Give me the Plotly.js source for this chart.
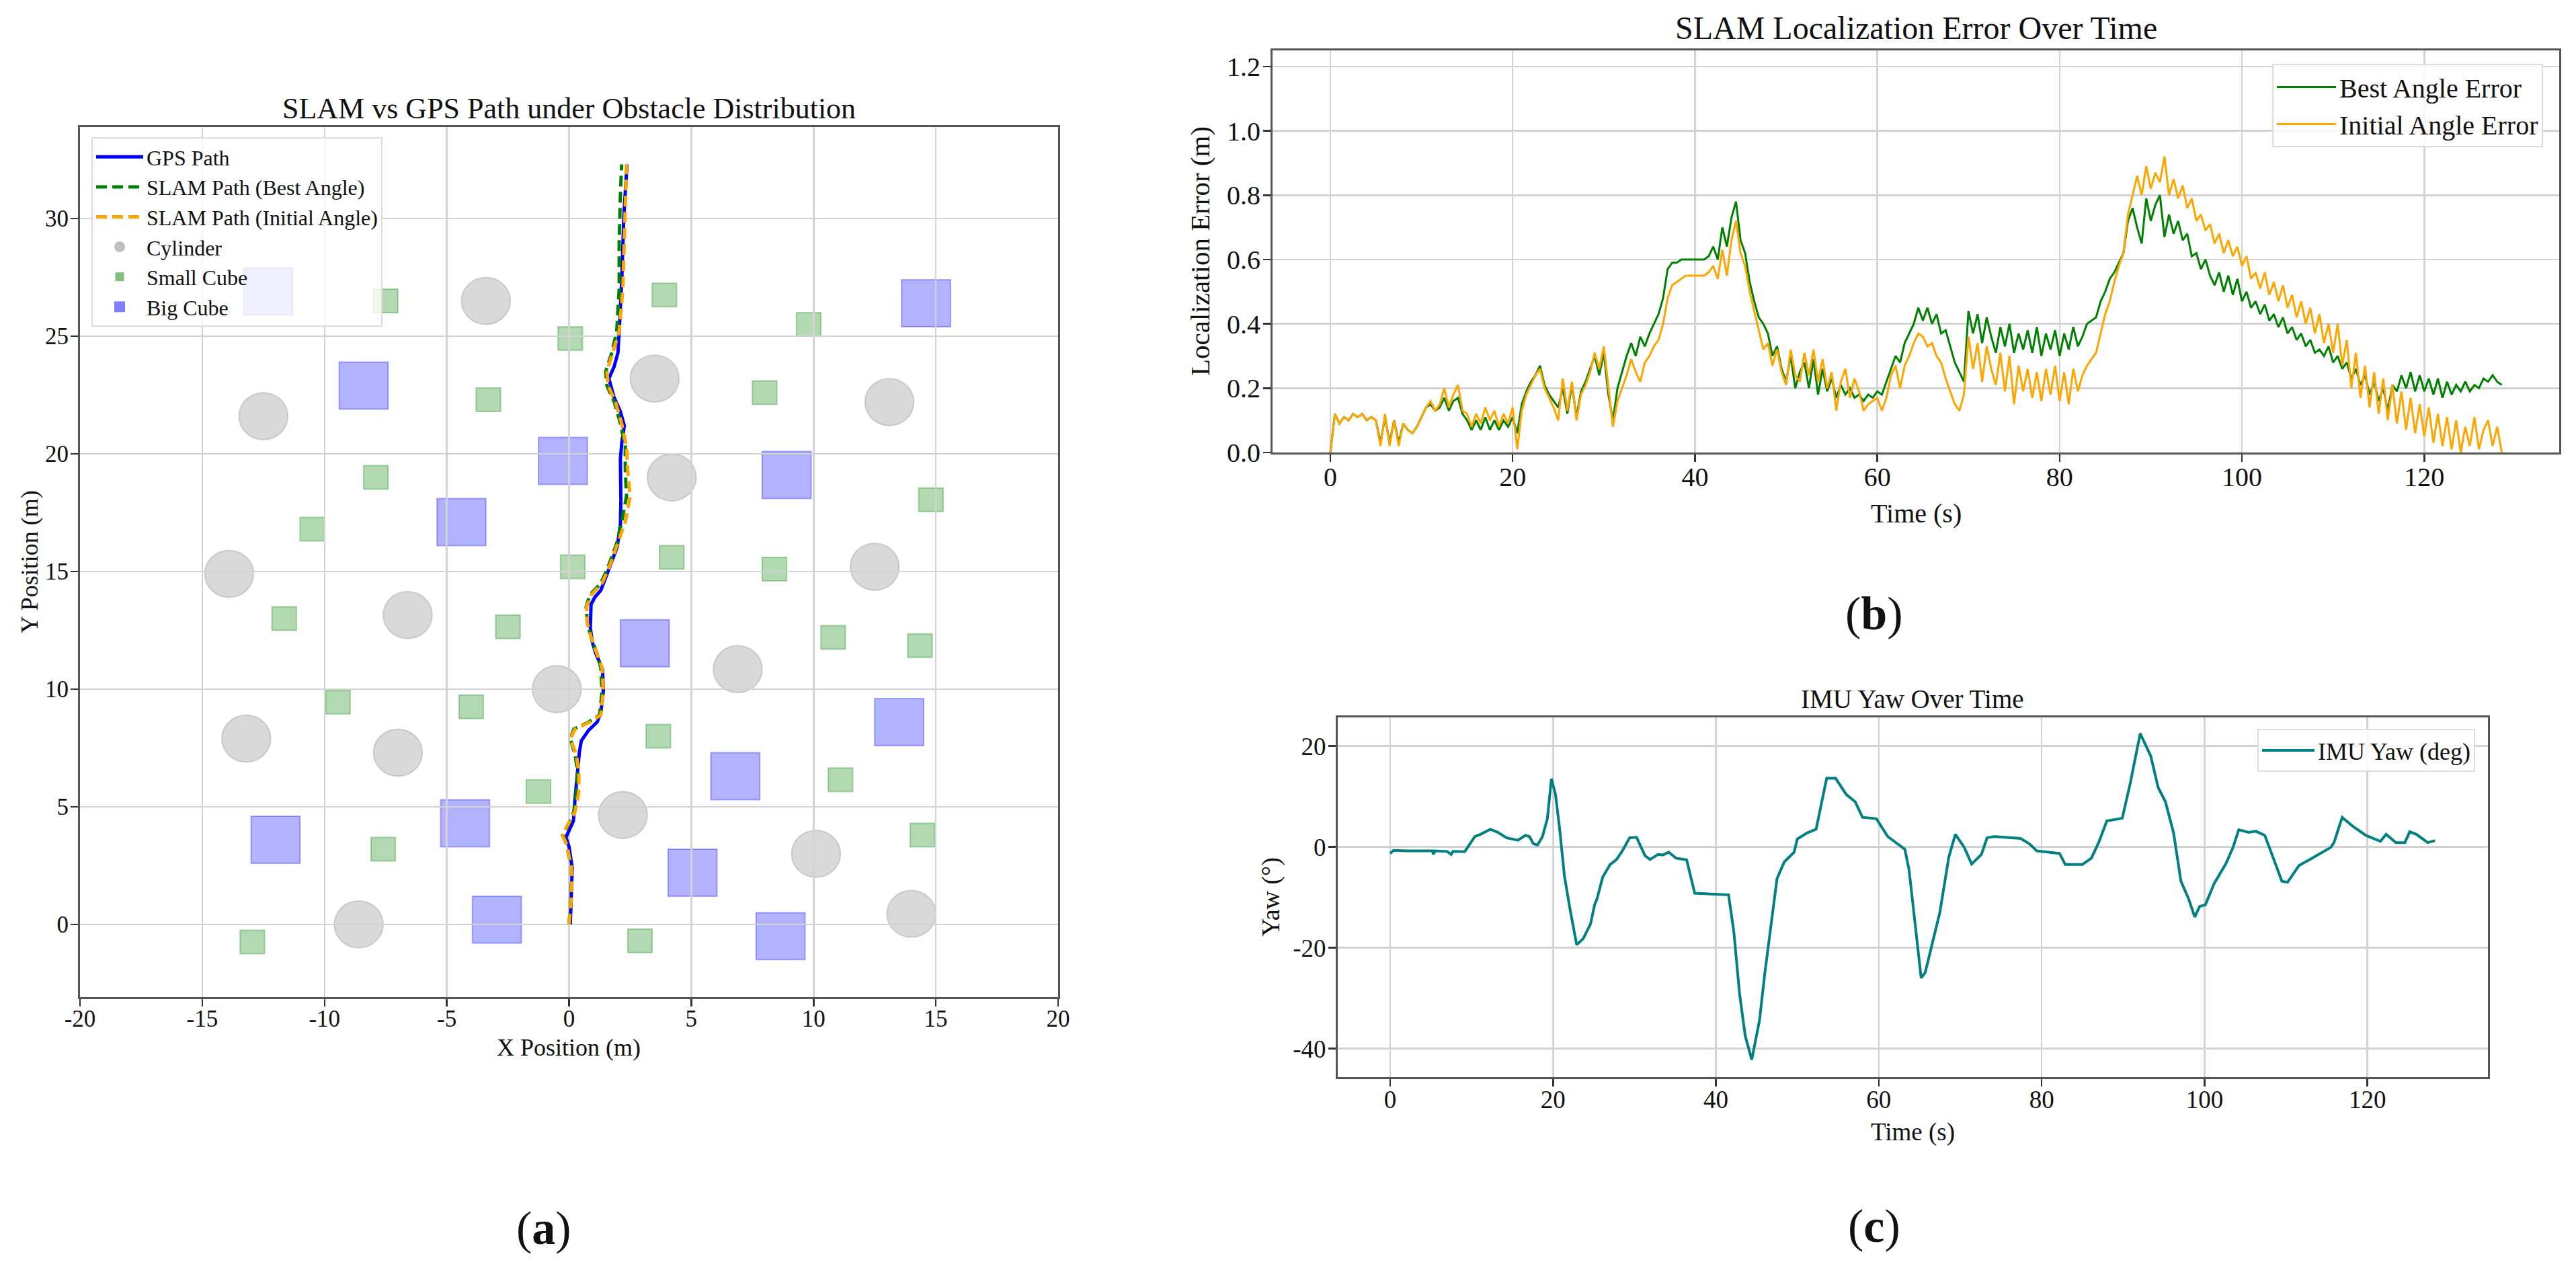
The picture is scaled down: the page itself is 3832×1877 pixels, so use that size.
<!DOCTYPE html>
<html>
<head>
<meta charset="utf-8">
<script src="https://cdn.plot.ly/plotly-3.0.1.min.js"></script>
<style>
  html, body { margin: 0; padding: 0; background: #fff; }
  #chart { width: 3832px; height: 1877px; }
</style>
</head>
<body>
<div id="chart"></div>
<script>
/* Three-panel figure: (a) SLAM vs GPS path among obstacles,
   (b) SLAM localization error over time, (c) IMU yaw over time.
   Values. */

// ---- (a) paths (m) ----
const gpsX = [0.05, 0.1, 0.13, 0.0, -0.13, 0.05, 0.18, 0.25, 0.34, 0.42, 0.5, 0.8, 1.15, 1.3, 1.4, 1.37, 1.1, 0.95, 0.87, 0.9,
              1.05, 1.3, 1.58, 1.97, 2.1, 2.12, 2.1, 2.16, 2.26, 2.1, 1.84, 1.63, 1.84, 2.0, 2.05, 2.16, 2.24, 2.37];
const gpsY = [0, 1.2, 2.4, 3.3, 3.7, 4.1, 4.4, 5.4, 6.5, 7.3, 7.8, 8.25, 8.6, 9.0, 9.9, 10.85, 11.5, 12.0, 12.6, 13.6,
              13.9, 14.2, 14.96, 16.05, 17.0, 18.0, 19.8, 20.5, 21.2, 21.8, 22.4, 23.2, 23.7, 24.3, 25.2, 27.5, 30.1, 32.3];

const bestX = [0.0, 0.08, 0.1, -0.1, -0.25, 0.0, 0.2, 0.3, 0.35, 0.25, 0.05, 0.2, 0.8, 1.25, 1.35, 1.3, 1.15, 0.9, 0.75, 0.7,
               0.85, 1.3, 1.6, 1.95, 2.15, 2.35, 2.3, 2.3, 2.1, 1.85, 1.55, 1.5, 1.75, 1.95, 2.05, 2.05, 2.1, 2.15];
const bestY = [0, 1.2, 2.4, 3.4, 3.8, 4.3, 4.8, 5.6, 6.5, 7.2, 7.9, 8.3, 8.6, 8.9, 9.9, 10.9, 11.5, 12.2, 12.8, 13.5,
               14.0, 14.5, 15.2, 16.2, 17.1, 18.2, 19.3, 20.3, 21.3, 22.2, 22.9, 23.5, 24.3, 25.2, 27.0, 29.0, 31.0, 32.3];

const initX = [0.0, 0.1, 0.1, -0.1, -0.28, 0.0, 0.25, 0.4, 0.4, 0.3, 0.05, 0.25, 0.85, 1.3, 1.4, 1.35, 1.15, 0.9, 0.75, 0.72,
               0.9, 1.35, 1.65, 2.0, 2.3, 2.5, 2.4, 2.35, 2.15, 1.9, 1.6, 1.55, 1.8, 2.05, 2.2, 2.25, 2.3, 2.35];
const initY = [0, 1.2, 2.4, 3.4, 3.8, 4.3, 4.8, 5.6, 6.5, 7.2, 7.9, 8.3, 8.6, 8.9, 9.9, 10.9, 11.5, 12.2, 12.8, 13.5,
               14.0, 14.5, 15.2, 16.2, 17.1, 18.2, 19.3, 20.3, 21.3, 22.2, 22.9, 23.5, 24.3, 25.2, 27.0, 29.0, 31.0, 32.3];

// ---- (a) obstacle centres (m) ----
const cylX = [-3.4, 3.5, 13.1, -12.5, 4.2, -13.9, 12.5, -6.6, 6.9, -0.5, -13.2, -7.0, 2.2, 10.1, -8.6, 14.0];
const cylY = [26.5, 23.2, 22.2, 21.6, 19.0, 14.9, 15.2, 13.15, 10.85, 10.0, 7.9, 7.3, 4.65, 3.0, 0.0, 0.45];

const bigX = [-12.3, 14.6, -8.4, -0.25, 8.9, -4.4, 3.1, 13.5, 6.8, -4.25, -12.0, 5.05, -2.95, 8.65];
const bigY = [26.9, 26.4, 22.9, 19.7, 19.1, 17.1, 11.95, 8.6, 6.3, 4.3, 3.6, 2.2, 0.2, -0.5];

const smallX = [-7.5, 3.9, 9.8, 0.05, -3.3, 8.0, -7.9, 14.8, -10.5, 0.15, 4.2, 8.4, -11.65, -2.5, 10.8, 14.35,
                -9.45, -4.0, 3.65, 11.1, -1.25, -7.6, 14.45, 2.9, -12.95];
const smallY = [26.5, 26.75, 25.5, 24.9, 22.3, 22.6, 19.0, 18.05, 16.8, 15.2, 15.6, 15.1, 13.0, 12.65, 12.2, 11.85,
                9.45, 9.25, 8.0, 6.15, 5.65, 3.2, 3.8, -0.7, -0.75];

const xTickVals = [-20, -15, -10, -5, 0, 5, 10, 15, 20];
const xTickText = ["-20", "-15", "-10", "-5", "0", "5", "10", "15", "20"];

// ---- (b) localization error (m) vs time (s) ----
const errT = [
  0, 0.5, 1, 1.5, 2, 2.5, 3, 3.5, 4, 4.5, 5, 5.5, 6, 6.5, 7, 7.5, 8, 8.5, 9, 9.5,
  10, 10.5, 11, 11.5, 12, 12.5, 13, 13.5, 14, 14.5, 15, 15.5, 16, 16.5, 17, 17.5, 18, 18.5, 19, 19.5,
  20, 20.5, 21, 21.5, 22, 22.5, 23, 23.5, 24, 24.5, 25, 25.5, 26, 26.5, 27, 27.5, 28, 28.5, 29, 29.5,
  30, 30.5, 31, 31.5, 32, 32.5, 33, 33.5, 34, 34.5, 35, 35.5, 36, 36.5, 37, 37.5, 38, 38.5, 39, 39.5,
  40, 40.5, 41, 41.5, 42, 42.5, 43, 43.5, 44, 44.5, 45, 45.5, 46, 46.5, 47, 47.5, 48, 48.5, 49, 49.5,
  50, 50.5, 51, 51.5, 52, 52.5, 53, 53.5, 54, 54.5, 55, 55.5, 56, 56.5, 57, 57.5, 58, 58.5, 59, 59.5,
  60, 60.5, 61, 61.5, 62, 62.5, 63, 63.5, 64, 64.5, 65, 65.5, 66, 66.5, 67, 67.5, 68, 68.5, 69, 69.5,
  70, 70.5, 71, 71.5, 72, 72.5, 73, 73.5, 74, 74.5, 75, 75.5, 76, 76.5, 77, 77.5, 78, 78.5, 79, 79.5,
  80, 80.5, 81, 81.5, 82, 82.5, 83, 83.5, 84, 84.5, 85, 85.5, 86, 86.5, 87, 87.5, 88, 88.5, 89, 89.5,
  90, 90.5, 91, 91.5, 92, 92.5, 93, 93.5, 94, 94.5, 95, 95.5, 96, 96.5, 97, 97.5, 98, 98.5, 99, 99.5,
  100, 100.5, 101, 101.5, 102, 102.5, 103, 103.5, 104, 104.5, 105, 105.5, 106, 106.5, 107, 107.5, 108, 108.5, 109, 109.5,
  110, 110.5, 111, 111.5, 112, 112.5, 113, 113.5, 114, 114.5, 115, 115.5, 116, 116.5, 117, 117.5, 118, 118.5, 119, 119.5,
  120, 120.5, 121, 121.5, 122, 122.5, 123, 123.5, 124, 124.5, 125, 125.5, 126, 126.5, 127, 127.5, 128, 128.5
];
const bestErr = [
  0.00, 0.12, 0.09, 0.11, 0.10, 0.12, 0.11, 0.12, 0.10, 0.11,  0.10, 0.03, 0.11, 0.03, 0.10, 0.03, 0.09, 0.07, 0.06, 0.08,
  0.11, 0.14, 0.15, 0.13, 0.14, 0.17, 0.13, 0.16, 0.17, 0.12,  0.10, 0.07, 0.10, 0.07, 0.11, 0.07, 0.10, 0.07, 0.10, 0.08,
  0.11, 0.06, 0.15, 0.19, 0.22, 0.24, 0.27, 0.21, 0.18, 0.16,  0.14, 0.20, 0.12, 0.21, 0.11, 0.19, 0.22, 0.26, 0.30, 0.24,
  0.31, 0.18, 0.10, 0.20, 0.25, 0.30, 0.34, 0.30, 0.36, 0.33,  0.37, 0.40, 0.43, 0.48, 0.57, 0.59, 0.59, 0.60, 0.60, 0.60,
  0.60, 0.60, 0.60, 0.61, 0.64, 0.60, 0.70, 0.64, 0.73, 0.78,  0.66, 0.62, 0.53, 0.47, 0.42, 0.40, 0.37, 0.30, 0.33, 0.26,
  0.22, 0.30, 0.20, 0.25, 0.28, 0.20, 0.29, 0.18, 0.26, 0.19,  0.23, 0.17, 0.21, 0.18, 0.20, 0.17, 0.18, 0.16, 0.18, 0.17,
  0.19, 0.18, 0.22, 0.26, 0.30, 0.28, 0.34, 0.37, 0.40, 0.45,  0.41, 0.45, 0.40, 0.43, 0.37, 0.38, 0.33, 0.28, 0.25, 0.22,
  0.44, 0.37, 0.43, 0.34, 0.42, 0.36, 0.31, 0.39, 0.33, 0.40,  0.31, 0.37, 0.32, 0.38, 0.31, 0.39, 0.30, 0.37, 0.32, 0.38,
  0.30, 0.37, 0.32, 0.39, 0.33, 0.36, 0.40, 0.41, 0.42, 0.47,  0.50, 0.54, 0.56, 0.59, 0.62, 0.72, 0.76, 0.70, 0.65, 0.79,
  0.72, 0.77, 0.80, 0.67, 0.74, 0.68, 0.72, 0.66, 0.68, 0.61,  0.62, 0.57, 0.60, 0.55, 0.52, 0.56, 0.50, 0.55, 0.49, 0.54,
  0.47, 0.50, 0.45, 0.47, 0.43, 0.46, 0.41, 0.43, 0.39, 0.42,  0.37, 0.39, 0.35, 0.37, 0.33, 0.35, 0.31, 0.32, 0.30, 0.33,
  0.28, 0.30, 0.26, 0.28, 0.23, 0.26, 0.21, 0.24, 0.18, 0.22,  0.16, 0.20, 0.13, 0.21, 0.19, 0.24, 0.20, 0.25, 0.19, 0.24,
  0.19, 0.23, 0.18, 0.23, 0.17, 0.22, 0.18, 0.21, 0.19, 0.22,  0.19, 0.21, 0.20, 0.23, 0.22, 0.24, 0.22, 0.21
];
const initErr = [
  0.00, 0.12, 0.09, 0.11, 0.10, 0.12, 0.11, 0.12, 0.10, 0.11,  0.10, 0.02, 0.12, 0.02, 0.10, 0.02, 0.09, 0.07, 0.06, 0.08,
  0.11, 0.14, 0.16, 0.13, 0.15, 0.20, 0.14, 0.18, 0.21, 0.13,  0.12, 0.08, 0.12, 0.09, 0.14, 0.10, 0.13, 0.08, 0.12, 0.09,
  0.14, 0.01, 0.13, 0.18, 0.21, 0.24, 0.26, 0.20, 0.17, 0.14,  0.10, 0.23, 0.13, 0.22, 0.10, 0.18, 0.21, 0.25, 0.31, 0.26,
  0.33, 0.20, 0.08, 0.16, 0.20, 0.24, 0.29, 0.25, 0.22, 0.28,  0.30, 0.33, 0.35, 0.40, 0.48, 0.52, 0.53, 0.54, 0.55, 0.55,
  0.55, 0.55, 0.55, 0.56, 0.58, 0.54, 0.63, 0.55, 0.66, 0.72,  0.62, 0.58, 0.50, 0.44, 0.38, 0.32, 0.34, 0.27, 0.32, 0.25,
  0.21, 0.32, 0.24, 0.22, 0.31, 0.24, 0.32, 0.22, 0.29, 0.20,  0.25, 0.13, 0.22, 0.26, 0.17, 0.23, 0.19, 0.13, 0.15, 0.16,
  0.17, 0.13, 0.17, 0.24, 0.27, 0.20, 0.27, 0.30, 0.34, 0.37,  0.36, 0.33, 0.34, 0.30, 0.28, 0.23, 0.19, 0.15, 0.13, 0.18,
  0.36, 0.26, 0.34, 0.22, 0.33, 0.26, 0.21, 0.31, 0.19, 0.30,  0.15, 0.27, 0.19, 0.26, 0.17, 0.25, 0.16, 0.26, 0.18, 0.27,
  0.16, 0.25, 0.15, 0.26, 0.19, 0.24, 0.27, 0.29, 0.31, 0.37,  0.43, 0.47, 0.53, 0.58, 0.62, 0.74, 0.80, 0.86, 0.80, 0.89,
  0.82, 0.87, 0.84, 0.92, 0.80, 0.85, 0.79, 0.83, 0.76, 0.79,  0.72, 0.74, 0.69, 0.71, 0.65, 0.68, 0.62, 0.66, 0.61, 0.64,
  0.58, 0.61, 0.54, 0.56, 0.51, 0.56, 0.49, 0.53, 0.47, 0.52,  0.45, 0.49, 0.42, 0.47, 0.40, 0.45, 0.37, 0.43, 0.34, 0.40,
  0.31, 0.40, 0.27, 0.35, 0.20, 0.31, 0.17, 0.27, 0.14, 0.25,  0.12, 0.23, 0.10, 0.21, 0.09, 0.19, 0.07, 0.17, 0.06, 0.15,
  0.05, 0.14, 0.03, 0.12, 0.02, 0.11, 0.01, 0.10, 0.00, 0.08,  0.02, 0.11, 0.01, 0.07, 0.10, 0.02, 0.08, 0.00
];

// ---- (c) IMU yaw (deg) vs time (s) ----
const yawT = [
  0, 0.4, 2, 4, 5.2, 5.3, 5.5, 7, 7.5, 7.7,
  9.15, 10.4, 11.1, 12.3, 13.2, 14.3, 15.7, 16.6, 17.1, 17.6,
  18.1, 18.7, 19.3, 19.8, 20.3, 20.8, 21.4, 22.1, 22.9, 23.7,
  24.2, 24.6, 25.1, 25.4, 26.1, 27.0, 27.8, 28.5, 29.4, 30.25,
  31.3, 31.9, 32.9, 33.5, 34.2, 35.1, 36.4, 37.4, 41.55, 42.2,
  42.9, 43.6, 44.4, 45.35, 46.0, 46.6, 47.5, 48.4, 49.6, 50.0,
  51.2, 52.3, 52.8, 53.6, 54.7, 56.0, 57.1, 58.0, 59.7, 61.1,
  63.2, 63.7, 64.2, 65.2, 65.7, 66.6, 67.5, 68.6, 69.4, 70.5,
  71.4, 72.6, 73.3, 74.2, 77.4, 78.5, 79.4, 82.2, 82.9, 85.0,
  86.1, 87.0, 88.0, 89.9, 90.9, 92.1, 93.4, 94.3, 95.2, 96.2,
  97.1, 98.0, 98.8, 99.4, 100.1, 101.2, 102.6, 103.5, 104.2, 105.4,
  106.3, 107.4, 108.3, 109.5, 110.2, 111.6, 113.2, 115.5, 115.9, 116.9,
  118.2, 119.8, 121.6, 122.3, 123.5, 124.6, 125.2, 126.0, 127.4, 128.3
];
const yawV = [
  -1.3, -0.7, -0.8, -0.8, -0.8, -1.5, -0.8, -0.9, -1.5, -0.9,
  -0.95, 2.05, 2.5, 3.5, 2.9, 1.8, 1.33, 2.3, 2.05, 0.6,
  0.38, 2.05, 5.6, 13.5, 10.4, 3.7, -5.8, -12.5, -19.4, -18.2,
  -16.5, -15.3, -11.5, -10.3, -6.0, -3.5, -2.5, -0.8, 1.8, 1.9,
  -1.76, -2.5, -1.5, -1.6, -1.05, -2.24, -2.57, -9.2, -9.5, -16.8,
  -29.1, -37.5, -42.2, -34.4, -25.1, -17.2, -6.3, -2.95, -1.05, 1.57,
  2.76, 3.5, 7.5, 13.6, 13.6, 10.4, 8.95, 5.86, 5.6, 2.05,
  -0.48, -4.4, -11.5, -26.0, -24.9, -18.7, -12.95, -2.0, 2.5, -0.1,
  -3.4, -1.5, 1.8, 2.05, 1.67, 0.6, -0.8, -1.3, -3.5, -3.5,
  -2.24, 0.86, 5.14, 5.7, 12.8, 22.5, 18.0, 11.8, 8.95, 2.76,
  -6.8, -10.1, -13.9, -11.8, -11.5, -7.2, -3.4, -0.1, 3.4, 2.9,
  3.1, 2.3, -1.5, -6.8, -7.0, -3.7, -2.24, -0.1, 0.86, 5.86,
  4.1, 2.3, 1.1, 2.5, 0.86, 0.86, 3.0, 2.5, 0.86, 1.24
];
const yawTickVals = [-40, -20, 0, 20];
const yawTickText = ["-40", "-20", "0", "20"];

(function () {
  "use strict";

  const W = 3832, H = 1877;
  const FONT = "Liberation Serif, Times New Roman, serif";
  const INK = "#111";
  // pixel -> paper helpers (layout placement only)
  const px = v => v / W;
  const py = v => 1 - v / H;

  /* ---------- obstacle shapes, sized in data units ---------- */
  function boxes(xs, ys, half, rgb, kind) {
    return xs.map((cx, i) => ({
      type: kind, xref: "x", yref: "y", layer: "below",
      x0: cx - half, x1: cx + half, y0: ys[i] - half, y1: ys[i] + half,
      fillcolor: `rgba(${rgb},0.3)`,
      line: { color: `rgba(${rgb},0.3)`, width: 2 },
    }));
  }
  const shapes = [
    ...boxes(cylX, cylY, 1.0, "128,128,128", "circle"),
    ...boxes(smallX, smallY, 0.5, "0,128,0", "rect"),
    ...boxes(bigX, bigY, 1.0, "0,0,255", "rect"),
  ];

  /* ---------- traces ---------- */
  const dash = "16px,8px";
  const traces = [
    { x: gpsX, y: gpsY, xaxis: "x", yaxis: "y", mode: "lines", name: "GPS Path",
      line: { color: "#0000ff", width: 5 }, legend: "legend" },
    { x: bestX, y: bestY, xaxis: "x", yaxis: "y", mode: "lines", name: "SLAM Path (Best Angle)",
      line: { color: "#008000", width: 5, dash }, legend: "legend" },
    { x: initX, y: initY, xaxis: "x", yaxis: "y", mode: "lines", name: "SLAM Path (Initial Angle)",
      line: { color: "#ffa500", width: 5, dash }, legend: "legend" },
    // legend proxies for the obstacle patches
    { x: [null], y: [null], xaxis: "x", yaxis: "y", mode: "markers", name: "Cylinder", legend: "legend",
      marker: { symbol: "circle", size: 16, color: "rgba(128,128,128,0.5)" } },
    { x: [null], y: [null], xaxis: "x", yaxis: "y", mode: "markers", name: "Small Cube", legend: "legend",
      marker: { symbol: "square", size: 13, color: "rgba(0,128,0,0.5)" } },
    { x: [null], y: [null], xaxis: "x", yaxis: "y", mode: "markers", name: "Big Cube", legend: "legend",
      marker: { symbol: "square", size: 16, color: "rgba(0,0,255,0.5)" } },

    { x: errT, y: bestErr, xaxis: "x2", yaxis: "y2", mode: "lines", name: "Best Angle Error",
      line: { color: "#008000", width: 3 }, legend: "legend2" },
    { x: errT, y: initErr, xaxis: "x2", yaxis: "y2", mode: "lines", name: "Initial Angle Error",
      line: { color: "#ffa500", width: 3 }, legend: "legend2" },

    { x: yawT, y: yawV, xaxis: "x3", yaxis: "y3", mode: "lines", name: "IMU Yaw (deg)",
      line: { color: "#008080", width: 4 }, legend: "legend3" },
  ];

  /* ---------- axes ---------- */
  function axis(domain, range, dtick, fontSize, extra) {
    return {
      domain, range, dtick, tick0: 0, autorange: false,
      showgrid: true, gridcolor: "#d3d3d3", gridwidth: 2.5,
      zeroline: false,
      showline: true, mirror: true, linecolor: "#555", linewidth: 3,
      ticks: "outside", ticklen: 11, tickwidth: 2.5, tickcolor: "#333",
      tickfont: { family: FONT, size: fontSize, color: INK },
      ...extra,
    };
  }
  // matplotlib sits its tick labels closer to the spine than plotly does
  const xLab = { ticklabelstandoff: -12 };
  const yLab = { ticklabelstandoff: -4 };

  function legendBox(x, y, fontSize, itemwidth) {
    return {
      x, y, xanchor: x < 0.5 ? "left" : "right", yanchor: "top",
      bgcolor: "rgba(255,255,255,0.8)", bordercolor: "#dcdcdc", borderwidth: 2,
      font: { family: FONT, size: fontSize, color: INK },
      itemwidth, tracegroupgap: 0,
    };
  }

  function label(text, x, y, size, angle) {
    return {
      text, x: px(x), y: py(y), xref: "paper", yref: "paper",
      xanchor: "center", yanchor: "middle", showarrow: false,
      textangle: angle || 0,
      font: { family: FONT, size, color: INK },
    };
  }

  const layout = {
    width: W, height: H,
    margin: { l: 0, r: 0, t: 0, b: 0 },
    paper_bgcolor: "#fff", plot_bgcolor: "rgba(0,0,0,0)",
    showlegend: true,

    xaxis: axis([px(119), px(1574)], [-20, 20], 5, 35,
      { anchor: "y", tickmode: "array", tickvals: xTickVals, ticktext: xTickText, ...xLab }),
    yaxis: axis([py(1483), py(189)], [-3.09, 33.89], 5, 35, { anchor: "x", ...yLab }),

    xaxis2: axis([px(1893), px(3807)], [-6.34, 134.8], 20, 40, { anchor: "y2", ...xLab }),
    yaxis2: axis([py(673), py(75)], [0, 1.25], 0.2, 40, { anchor: "x2", tickformat: ".1f", ...yLab }),

    xaxis3: axis([px(1990), px(3701)], [-6.44, 134.8], 20, 37, { anchor: "y3", ...xLab }),
    yaxis3: axis([py(1602), py(1067)], [-45.65, 25.68], 20, 37,
      { anchor: "x3", tickmode: "array", tickvals: yawTickVals, ticktext: yawTickText, ...yLab }),

    legend: legendBox(px(136), py(204), 32, 70),
    legend2: legendBox(px(3783), py(95), 40, 88),
    legend3: legendBox(px(3682), py(1084), 36, 78),

    shapes,
    annotations: [
      label("SLAM vs GPS Path under Obstacle Distribution", 846, 162, 44),
      label("X Position (m)", 846, 1558, 36),
      label("Y Position (m)", 44, 836, 36, -90),
      label("(<b>a</b>)", 809, 1826, 70),

      label("SLAM Localization Error Over Time", 2850, 41, 48),
      label("Time (s)", 2850, 763, 40),
      label("Localization Error (m)", 1785, 374, 41, -90),
      label("(<b>b</b>)", 2788, 913, 70),

      label("IMU Yaw Over Time", 2845, 1039, 39),
      label("Time (s)", 2845, 1684, 37),
      label("Yaw (°)", 1890, 1334, 38, -90),
      label("(<b>c</b>)", 2788, 1823, 70),
    ],
  };

  Plotly.newPlot("chart", traces, layout, { staticPlot: true, displayModeBar: false });
})();
</script>
</body>
</html>
